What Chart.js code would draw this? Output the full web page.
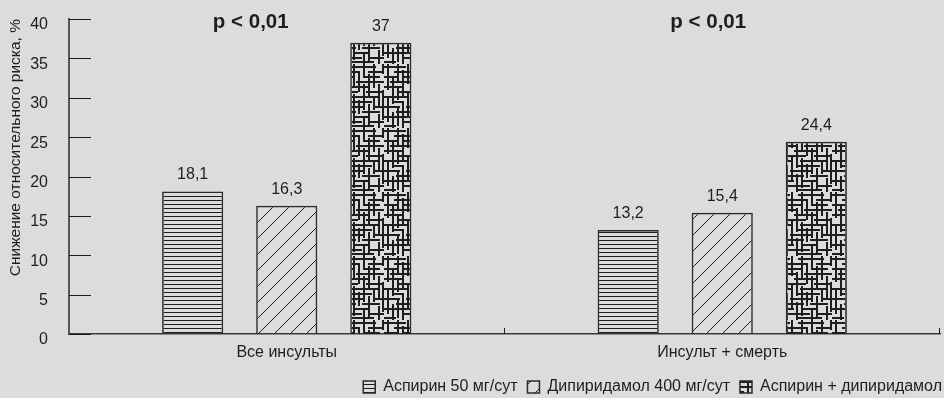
<!DOCTYPE html>
<html>
<head>
<meta charset="utf-8">
<script src="https://cdn.jsdelivr.net/npm/chart.js@4"></script>
<style>
  html, body { margin: 0; padding: 0; background: #dcdcdb; }
  #wrap { width: 944px; height: 398px; position: relative; }
</style>
</head>
<body>
<div id="wrap"><canvas id="riskChart"></canvas></div>
<script>
const categories = ["Все инсульты", "Инсульт + смерть"];
const aspirin = [18.1, 13.2];
const dipyridamole = [16.3, 15.4];
const combined = [37, 24.4];
const seriesNames = ["Аспирин 50 мг/сут", "Дипиридамол 400 мг/сут", "Аспирин + дипиридамол"];
const pLabels = ["p < 0,01", "p < 0,01"];
const yTicks = [0, 5, 10, 15, 20, 25, 30, 35, 40];

const INK = "#1e1e1e";
const FONT = "'Liberation Sans', Arial, sans-serif";

// --- fill patterns ---
function tile(w, h, draw) {
  const c = document.createElement("canvas");
  c.width = w; c.height = h;
  const g = c.getContext("2d");
  draw(g);
  return g.createPattern(c, "repeat");
}

const hLines = tile(4, 4, g => {
  g.fillStyle = INK;
  g.fillRect(0, 0, 4, 1);
});

const diagLines = tile(16, 16, g => {
  g.strokeStyle = INK;
  g.lineWidth = 1;
  g.beginPath();
  g.moveTo(-2, 18); g.lineTo(18, -2);
  g.moveTo(-2, 2); g.lineTo(2, -2);
  g.moveTo(14, 18); g.lineTo(18, 14);
  g.stroke();
});

// broken cross-hatch: rows and columns of strokes with gaps
const hRows = {
  2: [[0,22],[30,56]], 7: [[10,40],[48,64]], 12: [[0,14],[20,34],[44,60]], 17: [[6,30],[36,64]],
  22: [[0,18],[26,50]], 27: [[14,38],[46,64]], 32: [[0,24],[32,58]], 37: [[8,20],[28,52]],
  42: [[0,16],[22,44],[54,64]], 47: [[12,36],[42,60]], 52: [[0,26],[34,48]], 57: [[18,42],[50,64]],
  61: [[0,12],[28,54]]
};
const vCols = {
  3: [[0,26],[34,58]], 8: [[12,40],[48,64]], 13: [[0,18],[24,36],[44,62]], 18: [[6,32],[38,64]],
  23: [[0,20],[28,52]], 28: [[16,40],[46,64]], 33: [[0,22],[30,60]], 38: [[8,28],[36,50]],
  43: [[0,14],[20,46],[54,64]], 48: [[10,34],[40,62]], 53: [[0,24],[32,46]], 58: [[20,44],[50,64]],
  62: [[0,10],[26,56]]
};
const crossHatch = tile(64, 64, g => {
  g.fillStyle = INK;
  Object.entries(hRows).forEach(([y, segs]) => segs.forEach(([a, b]) => g.fillRect(a, +y, b - a, 2)));
  Object.entries(vCols).forEach(([x, segs]) => segs.forEach(([a, b]) => g.fillRect(+x, a, 2, b - a)));
});

const fmt = v => String(v).replace(".", ",");

// y tick marks pointing inward, x tick marks at category edges, value and p labels
const decorations = {
  id: "decorations",
  afterLayout(chart) {
    // push the legend row down and flush to the right edge
    const lg = chart.legend;
    lg.top += 7; lg.bottom += 7; lg.right += 12; lg.left += 12;
  },
  afterDatasetsDraw(chart) {
    const { ctx, chartArea, scales } = chart;
    const x = scales.x, y = scales.y;
    ctx.save();
    ctx.strokeStyle = INK;
    ctx.lineWidth = 1;
    ctx.beginPath();
    yTicks.forEach(t => {
      const py = Math.round(y.getPixelForValue(t)) + 0.5;
      ctx.moveTo(chartArea.left, py);
      ctx.lineTo(chartArea.left + 22, py);
    });
    const bottom = Math.round(chartArea.bottom);
    const step = x.getPixelForTick(1) - x.getPixelForTick(0);
    for (let i = 0; i < categories.length; i++) {
      const px = Math.round(x.getPixelForTick(i) + step / 2) - 0.5;
      ctx.moveTo(px, bottom);
      ctx.lineTo(px, bottom - 6);
    }
    ctx.stroke();

    ctx.fillStyle = INK;
    ctx.textAlign = "center";
    ctx.textBaseline = "alphabetic";
    ctx.font = "16px " + FONT;
    chart.data.datasets.forEach((ds, di) => {
      chart.getDatasetMeta(di).data.forEach((bar, i) => {
        ctx.fillText(fmt(ds.data[i]), bar.x, bar.y - 12);
      });
    });

    const pShift = [-36, -14];
    ctx.font = "bold 20.5px " + FONT;
    pLabels.forEach((t, i) => {
      ctx.fillText(t, x.getPixelForTick(i) + pShift[i], chartArea.top + 9);
    });
    ctx.restore();
  }
};

const common = {
  borderColor: "#2a2a2a",
  borderWidth: 1.5,
  borderSkipped: "bottom",
  barPercentage: 0.65,
  categoryPercentage: 0.648
};

new Chart(document.getElementById("riskChart"), {
  type: "bar",
  data: {
    labels: categories,
    datasets: [
      { label: seriesNames[0], data: aspirin, backgroundColor: hLines, ...common },
      { label: seriesNames[1], data: dipyridamole, backgroundColor: diagLines, ...common },
      { label: seriesNames[2], data: combined, backgroundColor: crossHatch, ...common }
    ]
  },
  options: {
    responsive: true,
    maintainAspectRatio: false,
    animation: false,
    layout: { padding: { top: 19, right: 4, left: 0, bottom: 0 } },
    plugins: {
      tooltip: { enabled: false },
      legend: {
        position: "bottom",
        align: "end",
        labels: {
          boxWidth: 12,
          boxHeight: 12,
          padding: 10,
          color: INK,
          font: { size: 16, family: FONT }
        }
      }
    },
    scales: {
      x: {
        afterFit: s => { s.height = 28; },
        grid: { display: false },
        border: { display: true, color: "#3a3a3a", width: 1.5 },
        ticks: { color: INK, font: { size: 16, family: FONT }, padding: 1 }
      },
      y: {
        min: 0,
        max: 40,
        afterFit: s => { s.width = 69; s.paddingTop = 0; s.paddingBottom = 0; },
        afterBuildTicks: s => { s.ticks = yTicks.map(v => ({ value: v })); },
        grid: { display: false },
        border: { display: true, color: "#555", width: 2 },
        ticks: { color: INK, font: { size: 16, family: FONT }, padding: 13, labelOffset: 6 },
        title: {
          display: true,
          text: "Снижение относительного риска, %",
          align: "end",
          color: INK,
          font: { size: 15.5, family: FONT },
          padding: { top: 6, bottom: 0 }
        }
      }
    }
  },
  plugins: [decorations]
});
</script>
</body>
</html>
